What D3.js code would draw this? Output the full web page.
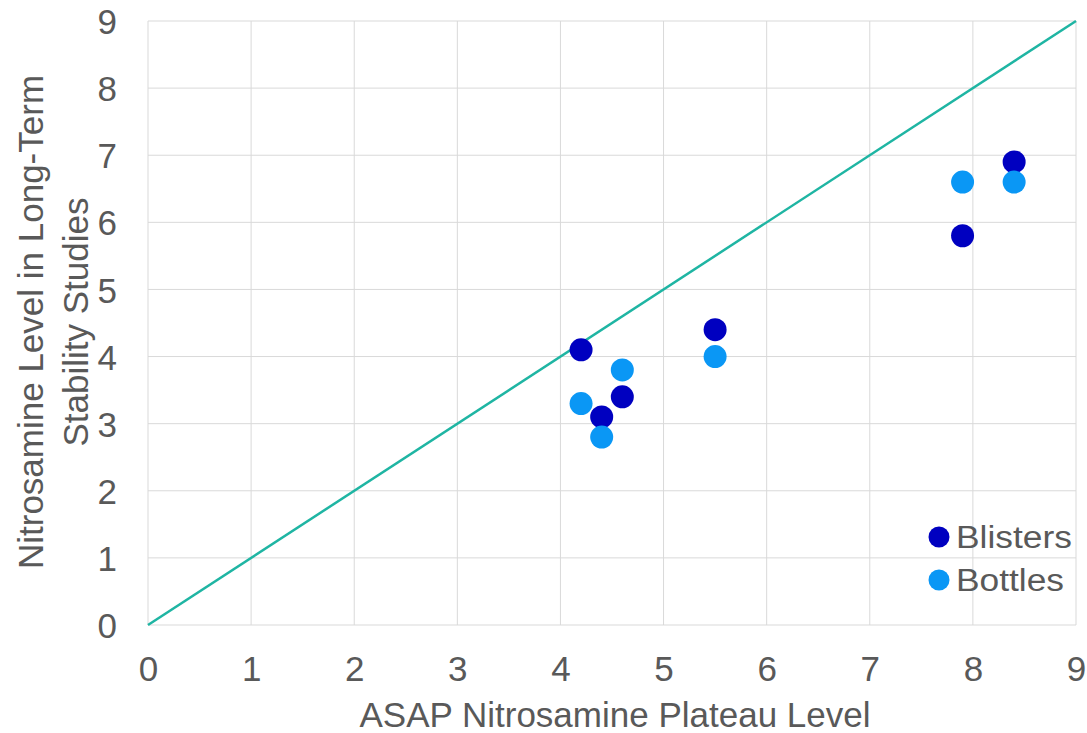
<!DOCTYPE html>
<html><head><meta charset="utf-8">
<script src="https://cdn.jsdelivr.net/npm/d3@7"></script>
<style>body{margin:0;background:#fff;}svg{display:block;font-family:Arial,"Liberation Sans",sans-serif;}</style>
</head><body><svg id="c" width="1087" height="733"></svg>
<script>
const ticks = [0,1,2,3,4,5,6,7,8,9];
const blistersX = [4.2, 4.4, 4.6, 5.5, 7.9, 8.4];
const blistersY = [4.1, 3.1, 3.4, 4.4, 5.8, 6.9];
const bottlesX = [4.2, 4.4, 4.6, 5.5, 7.9, 8.4];
const bottlesY = [3.3, 2.8, 3.8, 4.0, 6.6, 6.6];
const refLine = [0, 9];
const seriesNames = ["Blisters", "Bottles"];
const colors = ["#0000c0", "#0a97f5"];

const svg = d3.select("#c");
const L=148, R=1076, T=21, B=625;
const x = d3.scaleLinear().domain([0,9]).range([L,R]);
const y = d3.scaleLinear().domain([0,9]).range([B,T]);
const txt = "#595959";

const grid = svg.append("g");
ticks.forEach(t=>{
  grid.append("line").attr("x1",x(t)).attr("x2",x(t)).attr("y1",T).attr("y2",B).attr("stroke","#d9d9d9").attr("stroke-width",1);
  grid.append("line").attr("x1",L).attr("x2",R).attr("y1",y(t)).attr("y2",y(t)).attr("stroke","#d9d9d9").attr("stroke-width",1);
});

const xa = svg.append("g").attr("transform",`translate(0,${B})`)
  .call(d3.axisBottom(x).tickValues(ticks).tickSize(0).tickPadding(0).tickFormat(d3.format("d")));
xa.select(".domain").remove();
xa.selectAll("text").attr("font-size",35).attr("fill",txt).attr("font-family","Arial, 'Liberation Sans', sans-serif").attr("y",56).attr("dy",0);
const ya = svg.append("g").attr("transform",`translate(${L-31},0)`)
  .call(d3.axisLeft(y).tickValues(ticks).tickSize(0).tickPadding(0).tickFormat(d3.format("d")));
ya.select(".domain").remove();
ya.selectAll("text").attr("font-size",35).attr("fill",txt).attr("font-family","Arial, 'Liberation Sans', sans-serif").attr("dy","0.36em");

svg.append("line").attr("x1",x(refLine[0])).attr("y1",y(refLine[0])).attr("x2",x(refLine[1])).attr("y2",y(refLine[1]))
  .attr("stroke","#1fb5a3").attr("stroke-width",2.5);

[[blistersX,blistersY],[bottlesX,bottlesY]].forEach((s,i)=>{
  svg.append("g").selectAll("circle").data(s[0].map((v,j)=>[v,s[1][j]])).join("circle")
    .attr("cx",d=>x(d[0])).attr("cy",d=>y(d[1])).attr("r",11.5).attr("fill",colors[i]);
});

svg.append("text").attr("x",(L+R)/2+3).attr("y",727).attr("text-anchor","middle").attr("font-size",35).attr("fill",txt)
  .text("ASAP Nitrosamine Plateau Level");
const yt = svg.append("text").attr("transform",`translate(0,322) rotate(-90)`).attr("text-anchor","middle").attr("font-size",35).attr("fill",txt);
yt.append("tspan").attr("x",0).attr("y",43).text("Nitrosamine Level in Long-Term");
yt.append("tspan").attr("x",0).attr("y",88).text("Stability Studies");

const lg = svg.append("g");
seriesNames.forEach((n,i)=>{
  lg.append("circle").attr("cx",939).attr("cy",537+i*43).attr("r",10.5).attr("fill",colors[i]);
  lg.append("text").attr("transform",`translate(956,${548+i*43}) scale(1.14,1)`).attr("font-size",31).attr("fill",txt).text(n);
});
</script></body></html>
